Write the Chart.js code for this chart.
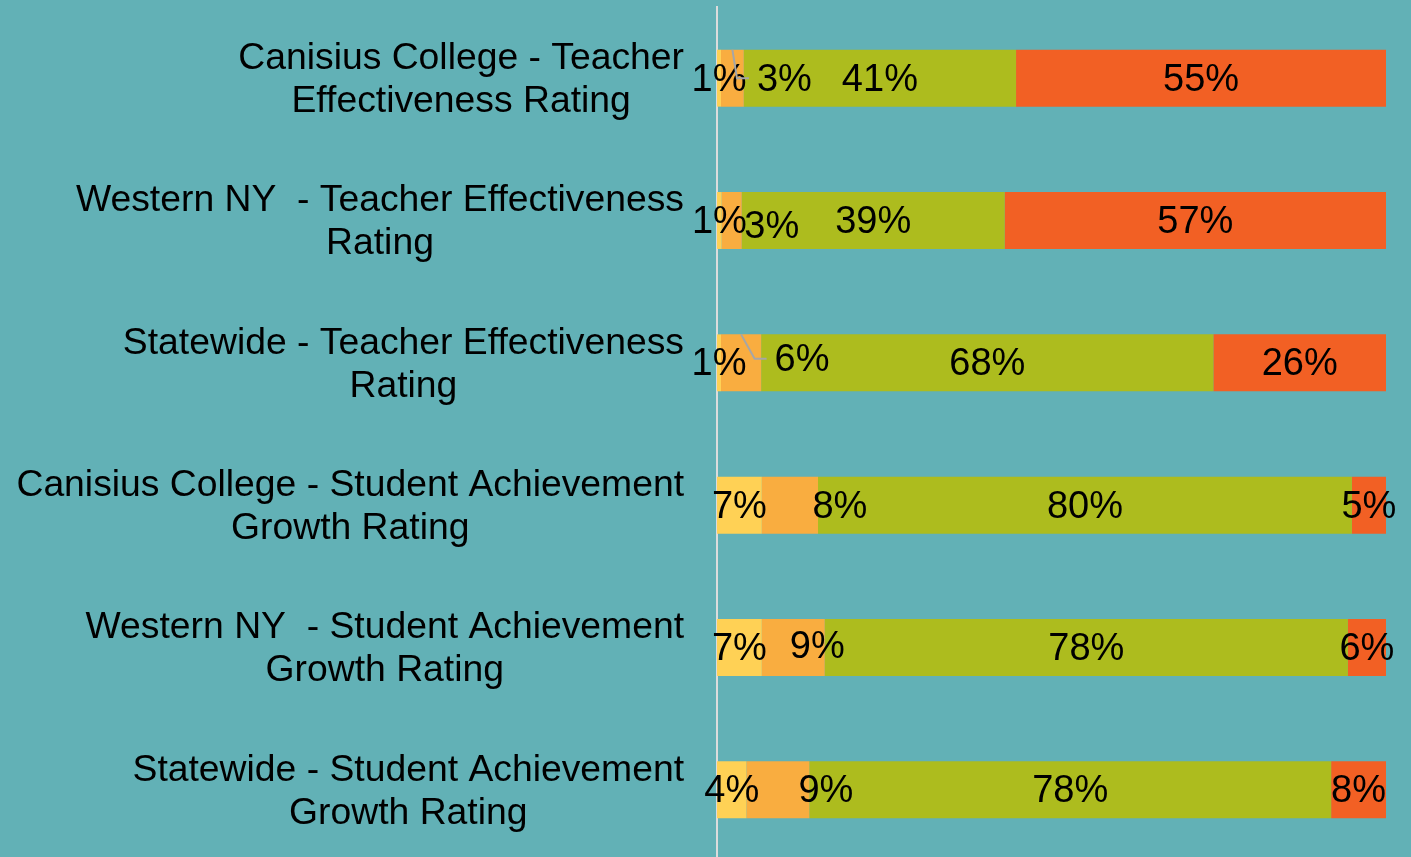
<!DOCTYPE html>
<html>
<head>
<meta charset="utf-8">
<script src="https://cdn.jsdelivr.net/npm/chart.js@4.4.1/dist/chart.umd.min.js"></script>
<style>
  html, body { margin: 0; padding: 0; background: #62b1b6; overflow: hidden; }
  #wrap { width: 1411px; height: 861px; position: relative; }
</style>
</head>
<body>
<div id="wrap"><canvas id="ratings"></canvas></div>
<script>
"use strict";

// category labels, one array of lines per bar
var categories = [
  ["Canisius College - Teacher", "Effectiveness Rating"],
  ["Western NY  - Teacher Effectiveness", "Rating"],
  ["Statewide - Teacher Effectiveness", "Rating"],
  ["Canisius College - Student Achievement", "Growth Rating"],
  ["Western NY  - Student Achievement", "Growth Rating"],
  ["Statewide - Student Achievement", "Growth Rating"]
];

// shares in percent
var ineffective     = [0.6, 0.7, 0.6, 6.7, 6.7, 4.4];
var developing      = [3.4, 3.0, 6.0, 8.4, 9.4, 9.4];
var effective       = [40.7, 39.3, 67.6, 79.8, 78.2, 78.0];
var highlyEffective = [55.3, 57.0, 25.8, 5.1, 5.7, 8.2];

var seriesNames = ["Ineffective", "Developing", "Effective", "Highly Effective"];
var seriesColors = ["#ffd155", "#f9ad40", "#adbc1e", "#f26024"];

var FONT = "'Liberation Sans', Arial, sans-serif";

// moved data labels (dataset-row): dx, dy, leader line
var labelMoves = {
  "1-0": { dx: 52, dy: 0, leader: true },
  "1-1": { dx: 40, dy: 5 },
  "1-2": { dx: 61, dy: -4, leader: true },
  "1-3": { dx: 50, dy: 0 },
  "1-4": { dx: 24, dy: -2 },
  "1-5": { dx: 48, dy: 0 }
};

var categoryLabels = {
  id: "categoryLabels",
  afterDraw: function(chart) {
    var ctx = chart.ctx;
    var scale = chart.scales.y;
    var right = chart.chartArea.left - 33;
    ctx.save();
    ctx.font = "37.3px " + FONT;
    ctx.fillStyle = "#000";
    ctx.textAlign = "center";
    ctx.textBaseline = "middle";
    categories.forEach(function(lines, i) {
      var y = scale.getPixelForValue(i) + 2;
      var w = 0;
      lines.forEach(function(l) { w = Math.max(w, ctx.measureText(l).width); });
      var cx = right - w / 2;
      var top = y - (lines.length - 1) * 43 / 2;
      lines.forEach(function(l, k) { ctx.fillText(l, cx, top + k * 43); });
    });
    ctx.restore();
  }
};

var valueLabels = {
  id: "valueLabels",
  afterDatasetsDraw: function(chart) {
    var ctx = chart.ctx;
    ctx.save();
    ctx.font = "38px " + FONT;
    ctx.textAlign = "center";
    ctx.textBaseline = "middle";
    chart.data.datasets.forEach(function(ds, di) {
      var meta = chart.getDatasetMeta(di);
      meta.data.forEach(function(bar, i) {
        var text = Math.round(ds.data[i]) + "%";
        var segCenter = (bar.x + bar.base) / 2;
        var move = labelMoves[di + "-" + i] || { dx: 0, dy: 0 };
        var x = segCenter + move.dx;
        var y = bar.y + 2 + move.dy;
        if (move.leader) {
          var tw = ctx.measureText(text).width;
          var endX = x - tw / 2 - 8;
          ctx.strokeStyle = "#a6a6a6";
          ctx.lineWidth = 2;
          ctx.beginPath();
          ctx.moveTo(segCenter, bar.y - bar.height / 2);
          ctx.lineTo(endX - 12, y - 2);
          ctx.lineTo(endX, y - 2);
          ctx.stroke();
        }
        ctx.fillStyle = "#000";
        ctx.fillText(text, x, y);
      });
    });
    ctx.restore();
  }
};

var series = [ineffective, developing, effective, highlyEffective];

new Chart(document.getElementById("ratings"), {
  type: "bar",
  data: {
    labels: categories,
    datasets: series.map(function(values, k) {
      return {
        label: seriesNames[k],
        data: values,
        backgroundColor: seriesColors[k],
        borderWidth: 0,
        barPercentage: 0.4,
        categoryPercentage: 1
      };
    })
  },
  options: {
    indexAxis: "y",
    responsive: true,
    maintainAspectRatio: false,
    animation: false,
    layout: { padding: { top: 7, right: 25, bottom: 0, left: 0 } },
    plugins: {
      legend: { display: false },
      tooltip: { enabled: false }
    },
    scales: {
      x: {
        stacked: true,
        min: 0,
        max: 100,
        display: false
      },
      y: {
        stacked: true,
        grid: { display: false },
        border: { display: true, color: "#dcdcdc", width: 2 },
        ticks: { display: false },
        afterFit: function(scale) { scale.width = 717; }
      }
    }
  },
  plugins: [categoryLabels, valueLabels]
});
</script>
</body>
</html>
